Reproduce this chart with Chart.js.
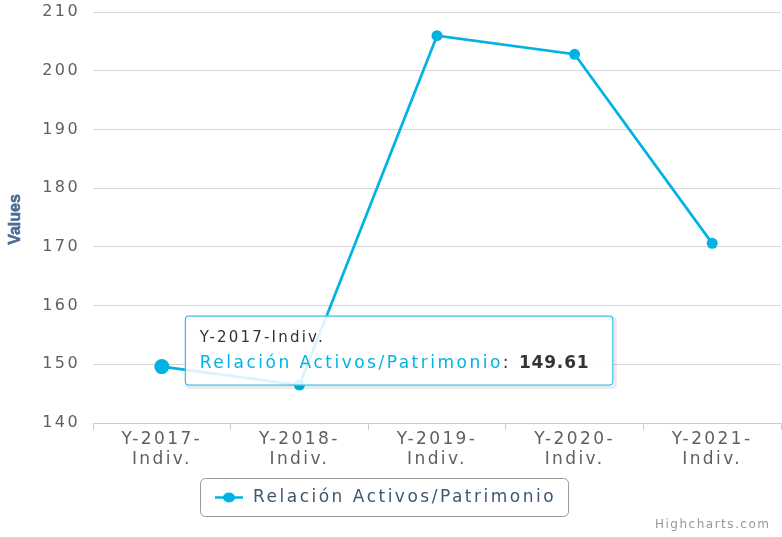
<!DOCTYPE html>
<html>
<head>
<meta charset="utf-8">
<script src="https://cdn.jsdelivr.net/npm/chart.js@4/dist/chart.umd.min.js"></script>
<style>
  html, body { margin: 0; padding: 0; background: #ffffff; }
  #wrap { width: 782px; height: 537px; position: relative; }
</style>
</head>
<body>
<div id="wrap"><canvas id="c" width="782" height="537"></canvas></div>
<script>
// Categories (full names) and the two-line labels shown under the x axis
const categories = ['Y-2017-Indiv.', 'Y-2018-Indiv.', 'Y-2019-Indiv.', 'Y-2020-Indiv.', 'Y-2021-Indiv.'];
const xTickLines = [
  ['Y-2017-', 'Indiv.'],
  ['Y-2018-', 'Indiv.'],
  ['Y-2019-', 'Indiv.'],
  ['Y-2020-', 'Indiv.'],
  ['Y-2021-', 'Indiv.']
];
// Series values
const seriesName = 'Relación Activos/Patrimonio';
const ratioValues = [149.61, 146.47, 205.97, 202.8, 170.6];
// Value axis ticks
const yTicks = [140, 150, 160, 170, 180, 190, 200, 210];
const axisTitle = 'Values';
const creditText = 'Highcharts.com';
// Point whose tooltip is shown
const highlightIndex = 0;

const LINE_COLOR = '#00b3e3';
const TEXT_SPACING = '2.4px';

function roundRect(ctx, x, y, w, h, r) {
  ctx.beginPath();
  ctx.moveTo(x + r, y);
  ctx.lineTo(x + w - r, y);
  ctx.arcTo(x + w, y, x + w, y + r, r);
  ctx.lineTo(x + w, y + h - r);
  ctx.arcTo(x + w, y + h, x + w - r, y + h, r);
  ctx.lineTo(x + r, y + h);
  ctx.arcTo(x, y + h, x, y + h - r, r);
  ctx.lineTo(x, y + r);
  ctx.arcTo(x, y, x + r, y, r);
  ctx.closePath();
}

// Extras: wide letter spacing, axis title, tooltip box, legend box and credit
const extras = {
  id: 'extras',
  beforeLayout(chart) { chart.ctx.letterSpacing = TEXT_SPACING; },
  beforeDraw(chart) {
    const ctx = chart.ctx;
    ctx.letterSpacing = TEXT_SPACING;
    ctx.save();
    ctx.fillStyle = '#ffffff';
    ctx.fillRect(0, 0, chart.width, chart.height);
    ctx.restore();
  },
  afterDraw(chart) {
    const ctx = chart.ctx;
    const area = chart.chartArea;

    // y-axis title
    ctx.save();
    ctx.letterSpacing = '0px';
    ctx.translate(16, (area.top + area.bottom) / 2 + 2);
    ctx.rotate(-Math.PI / 2);
    ctx.font = 'bold 16px "Liberation Sans", Arial, sans-serif';
    ctx.fillStyle = '#4a6d95';
    ctx.strokeStyle = '#4a6d95';
    ctx.lineWidth = 0.6;
    ctx.textAlign = 'center';
    ctx.textBaseline = 'middle';
    ctx.fillText(axisTitle, 0, 0);
    ctx.strokeText(axisTitle, 0, 0);
    ctx.restore();

    // tooltip for the highlighted point
    const pt = chart.getDatasetMeta(0).data[highlightIndex];
    if (pt) {
      ctx.save();
      const bx = pt.x + 23, by = pt.y - 51;
      ctx.letterSpacing = '2.5px';
      ctx.font = '17px "DejaVu Sans", sans-serif';
      const nameW = ctx.measureText(seriesName).width;
      const colonW = ctx.measureText(': ').width;
      ctx.letterSpacing = '0.8px';
      ctx.font = 'bold 17px "DejaVu Sans", sans-serif';
      const valText = ratioValues[highlightIndex].toFixed(2);
      const valW = ctx.measureText(valText).width;
      const bw = 15 + nameW + colonW + valW + 24;
      const bh = 70;
      // soft shadow, drawn as an offset outline so the box stays white
      ctx.strokeStyle = 'rgba(0,0,0,0.08)';
      ctx.lineWidth = 3;
      roundRect(ctx, bx + 2, by + 2, bw, bh, 3);
      ctx.stroke();
      roundRect(ctx, bx, by, bw, bh, 3);
      ctx.fillStyle = 'rgba(255,255,255,0.86)';
      ctx.fill();
      ctx.lineWidth = 1;
      ctx.strokeStyle = LINE_COLOR;
      roundRect(ctx, bx + 0.5, by + 0.5, bw - 1, bh - 1, 3);
      ctx.stroke();

      ctx.textBaseline = 'middle';
      ctx.textAlign = 'left';
      ctx.letterSpacing = '2.2px';
      ctx.font = '15px "DejaVu Sans", sans-serif';
      ctx.fillStyle = '#333333';
      ctx.fillText(categories[highlightIndex], bx + 15, by + 23);

      ctx.letterSpacing = '2.5px';
      ctx.font = '17px "DejaVu Sans", sans-serif';
      ctx.fillStyle = LINE_COLOR;
      ctx.fillText(seriesName, bx + 15, by + 48);
      ctx.fillStyle = '#333333';
      ctx.fillText(': ', bx + 15 + nameW, by + 48);
      ctx.letterSpacing = '0.8px';
      ctx.font = 'bold 17px "DejaVu Sans", sans-serif';
      ctx.fillText(valText, bx + 15 + nameW + colonW, by + 48);
      ctx.restore();
    }

    // legend box
    ctx.save();
    ctx.letterSpacing = '2.5px';
    ctx.font = '17px "DejaVu Sans", sans-serif';
    const textW = ctx.measureText(seriesName).width;
    const lx = 200, ly = 478, lh = 38;
    const lw = 53 + textW + 12;
    ctx.lineWidth = 1;
    ctx.strokeStyle = '#999999';
    roundRect(ctx, lx + 0.5, ly + 0.5, lw, lh, 5);
    ctx.stroke();
    const cy = ly + lh / 2 + 0.5;
    ctx.strokeStyle = LINE_COLOR;
    ctx.lineWidth = 2.5;
    ctx.beginPath();
    ctx.moveTo(lx + 15, cy);
    ctx.lineTo(lx + 43, cy);
    ctx.stroke();
    ctx.fillStyle = LINE_COLOR;
    ctx.beginPath();
    ctx.ellipse(lx + 29, cy, 6, 5, 0, 0, Math.PI * 2);
    ctx.fill();
    ctx.fillStyle = '#3e576f';
    ctx.textBaseline = 'middle';
    ctx.textAlign = 'left';
    ctx.fillText(seriesName, lx + 53, cy);
    ctx.restore();

    // credit
    ctx.save();
    ctx.letterSpacing = '1.5px';
    ctx.font = '12px "DejaVu Sans", sans-serif';
    ctx.fillStyle = '#999999';
    ctx.textBaseline = 'middle';
    ctx.textAlign = 'left';
    ctx.fillText(creditText, 655, 525);
    ctx.restore();
  }
};

new Chart(document.getElementById('c'), {
  type: 'line',
  data: {
    labels: categories,
    datasets: [{
      label: seriesName,
      data: ratioValues,
      borderColor: LINE_COLOR,
      backgroundColor: LINE_COLOR,
      borderWidth: 2.7,
      tension: 0,
      fill: false,
      clip: false,
      pointBackgroundColor: LINE_COLOR,
      pointBorderWidth: 0,
      pointRadius: (c) => (c.dataIndex === highlightIndex ? 7.5 : 5.5),
      pointHoverRadius: (c) => (c.dataIndex === highlightIndex ? 7.5 : 5.5)
    }]
  },
  options: {
    responsive: false,
    animation: false,
    events: [],
    layout: { autoPadding: false, padding: { top: 12, right: 1, bottom: 64, left: 0 } },
    plugins: {
      legend: { display: false },
      tooltip: { enabled: false }
    },
    scales: {
      x: {
        type: 'category',
        offset: true,
        afterFit(scale) {
          scale.height = 50;
          scale.paddingLeft = 0;
          scale.paddingRight = 0;
        },
        grid: {
          offset: true,
          drawOnChartArea: false,
          drawTicks: true,
          tickLength: 7,
          color: '#c0d0e0'
        },
        border: { display: true, color: '#c0d0e0', width: 1 },
        ticks: {
          autoSkip: false,
          maxRotation: 0,
          minRotation: 0,
          padding: 0,
          color: '#606060',
          font: { family: '"DejaVu Sans", sans-serif', size: 17, lineHeight: 1.15 },
          callback: (v, i) => xTickLines[i]
        }
      },
      y: {
        min: yTicks[0],
        max: yTicks[yTicks.length - 1],
        afterFit(scale) {
          scale.width = 93;
          scale.paddingTop = 0;
          scale.paddingBottom = 0;
        },
        afterBuildTicks(scale) { scale.ticks = yTicks.map(v => ({ value: v })); },
        grid: {
          drawTicks: false,
          color: (c) => (c.tick && c.tick.value === yTicks[0] ? 'rgba(0,0,0,0)' : '#d8d8d8'),
          lineWidth: 1
        },
        border: { display: false },
        ticks: {
          padding: 13,
          color: '#606060',
          font: { family: '"DejaVu Sans", sans-serif', size: 16 }
        },
        title: { display: false }
      }
    }
  },
  plugins: [extras]
});
</script>
</body>
</html>
